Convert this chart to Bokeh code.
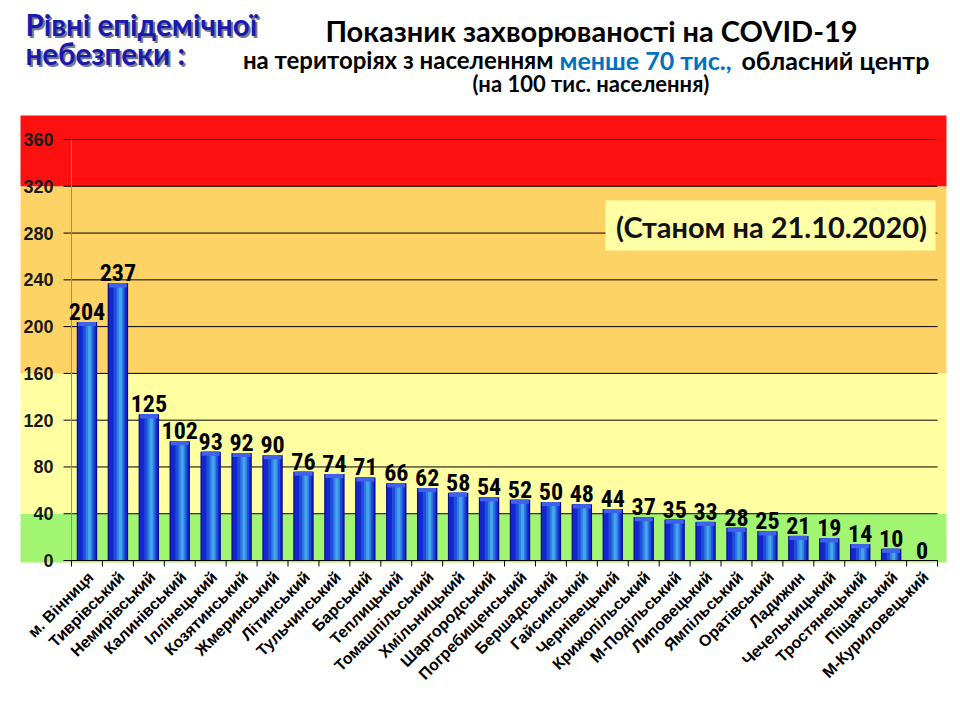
from bokeh.plotting import figure
from bokeh.models import Range1d, Label, ColumnDataSource
from bokeh.core.properties import value
from bokeh.embed import file_html
from bokeh.resources import INLINE
import math

categories = ["м. Вінниця", "Тиврівський", "Немирівський", "Калинівський", "Іллінецький",
              "Козятинський", "Жмеринський", "Літинський", "Тульчинський", "Барський",
              "Теплицький", "Томашпільський", "Хмільницький", "Шаргородський",
              "Погребищенський", "Бершадський", "Гайсинський", "Чернівецький",
              "Крижопільський", "М-Подільський", "Липовецький", "Ямпільський",
              "Оратівський", "Ладижин", "Чечельницький", "Тростянецький", "Піщанський",
              "М-Куриловецький"]
values = [204, 237, 125, 102, 93, 92, 90, 76, 74, 71, 66, 62, 58, 54, 52, 50, 48, 44,
          37, 35, 33, 28, 25, 21, 19, 14, 10, 0]
y_ticks = [0, 40, 80, 120, 160, 200, 240, 280, 320, 360]
band_thresholds = [0, 40, 160, 320]
band_colors = ["#A2F571", "#FFFFA2", "#FDD366", "#FF1010"]

title1 = "Показник захворюваності на COVID-19"
title2a = "на територіях з населенням"
title2b = "менше 70 тис.,"
title2c = "обласний центр"
title3 = "(на 100  тис. населення)"
levels1 = "Рівні епідемічної"
levels2 = "небезпеки :"
date_text = "(Станом на 21.10.2020)"

# layout constants (canvas pixel geometry)
W, H = 952, 712
X0, PXX = 71.0, 30.93      # canvas x of category boundary 0, px per category
Y0, PXY = 560.0, 1.1694    # canvas y of value 0, px per unit

def dx(px):
    return (px - X0) / PXX

def dy(py):
    return (Y0 - py) / PXY

p = figure(width=W, height=H, output_backend="svg", toolbar_location=None,
           x_range=Range1d(dx(0), dx(W)), y_range=Range1d(dy(H), dy(0)),
           x_axis_location=None, y_axis_location=None, min_border=0)
p.outline_line_color = None
p.grid.visible = False
p.background_fill_color = "white"
p.border_fill_color = "white"

# bands
n = len(categories)
bottoms = [dy(562)] + band_thresholds[1:]
tops = band_thresholds[1:] + [dy(115)]
p.quad(left=dx(20), right=dx(946), bottom=bottoms, top=tops,
       fill_color=band_colors, line_color=None)

# grid lines, y axis
grid_vals = y_ticks[1:]
p.segment(x0=0, x1=n, y0=grid_vals, y1=grid_vals, line_color="black", line_width=1)
p.segment(x0=dx(63), x1=0, y0=y_ticks, y1=y_ticks, line_color="black", line_width=1)
p.segment(x0=0, x1=0, y0=0, y1=360, line_color="#8C8CB0", line_width=1)
p.text(x=dx(53), y=y_ticks, text=[str(t) for t in y_ticks], text_align="right",
       text_baseline="middle", text_font=value("Liberation Sans"), text_font_style="bold",
       text_font_size="18px", text_color="#1A1A1A")

# bars with emulated gradient
xs = [i + 0.5 for i in range(n)]
src = ColumnDataSource(dict(x=xs, top=values, lab=[str(v) for v in values],
                            cap=[max(v - 3.5, 0) for v in values]))
p.vbar(x="x", top="top", bottom=0, width=0.66, source=src, fill_color="#0A0F8E", line_color=None)
p.vbar(x="x", top="top", bottom=0, width=0.58, source=src, fill_color="#1326CF", line_color=None)
p.vbar(x=[v + 0.05 for v in xs], top=values, bottom=0, width=0.38, fill_color="#1F4FDA", line_color=None)
p.vbar(x=[v + 0.07 for v in xs], top=values, bottom=0, width=0.22, fill_color="#2F7EE2", line_color=None)
p.vbar(x=[v + 0.08 for v in xs], top=values, bottom=0, width=0.10, fill_color="#45A4EA", line_color=None)
p.vbar(x="x", top="top", bottom="cap", width=0.58, source=src, fill_color="#4060EE", line_color=None)

p.text(x="x", y="top", text="lab", source=src, text_align="center", text_baseline="bottom",
       y_offset=-2, text_font=value("Roboto Condensed"),
       text_font_style="bold", text_font_size="24px", text_color="black")

# x axis (drawn by hand so the whole page is one frame)
p.segment(x0=0, x1=n, y0=0, y1=0, line_color="black", line_width=1.2)
p.segment(x0=list(range(n + 1)), x1=list(range(n + 1)), y0=0, y1=dy(566),
          line_color="black", line_width=1)
p.text(x=[v + 0.12 for v in xs], y=dy(574), text=categories, angle=math.pi / 4,
       text_align="right", text_baseline="middle", text_font=value("Liberation Sans"),
       text_font_style="bold", text_font_size="16px", text_color="black")

# date box
p.quad(left=dx(605), right=dx(935), bottom=dy(250), top=dy(200),
       fill_color="#FFFFA6", line_color=None)
p.add_layout(Label(x=dx(771), y=dy(226), text=date_text, text_align="center",
                   text_baseline="middle", text_font="Lato", text_font_style="bold",
                   text_font_size="29px", text_color="#111111"))

# titles
def lab(x, y, text, size, color="black", align="left", font="Lato"):
    p.add_layout(Label(x=dx(x), y=dy(y), text=text, text_align=align, text_baseline="middle",
                       text_font=font, text_font_style="bold", text_font_size=size,
                       text_color=color))

lab(27, 26, levels1, "29.5px", "#7A7A90")
lab(27, 55, levels2, "29.5px", "#7A7A90")
lab(25, 24, levels1, "29.5px", "#1A1AAE")
lab(25, 53, levels2, "29.5px", "#1A1AAE")

lab(591, 30, title1, "29px", align="center")
lab(553, 59, title2a, "24px", align="right")
lab(559, 59, title2b, "25px", "#0070C0")
lab(741, 59, title2c, "25px")
lab(593, 83, title3, "22px", align="center")

open("out.html", "w").write(file_html(p, INLINE))
